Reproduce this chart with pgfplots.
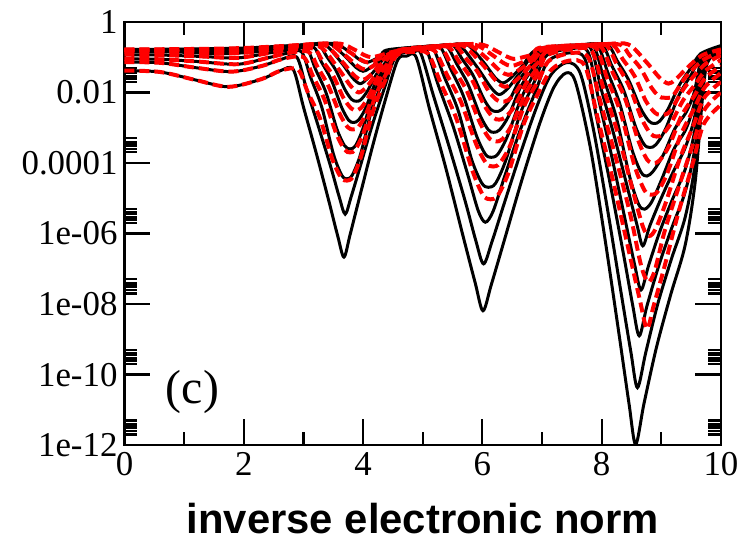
\documentclass[border=0pt]{standalone}
\usepackage{fontspec}
\setmainfont{Liberation Serif}
\newfontfamily\labelsans{Liberation Sans}
\usepackage{pgfplots}
\pgfplotsset{compat=1.18}
\begin{document}
\begin{tikzpicture}
\begin{axis}[
  scale only axis, width=299.5pt, height=212.5pt,
  xmin=0, xmax=10, ymin=1e-12, ymax=1, ymode=log,
  xtick={0,2,4,6,8,10}, xticklabels={0,2,4,6,8,10},
  minor xtick={1,3,5,7,9},
  ytick={1e-12,1e-10,1e-8,1e-6,1e-4,1e-2,1},
  yticklabels={1e-12,1e-10,1e-08,1e-06,0.0001,0.01,1},
  minor ytick={2e-12,2.5e-12,3e-12,3.5e-12,4e-12,5e-12,
               2e-10,2.5e-10,3e-10,3.5e-10,4e-10,5e-10,
               2e-8,2.5e-8,3e-8,3.5e-8,4e-8,5e-8,
               2e-6,2.5e-6,3e-6,3.5e-6,4e-6,5e-6,
               2e-4,2.5e-4,3e-4,3.5e-4,4e-4,5e-4,
               2e-2,2.5e-2,3e-2,3.5e-2,4e-2,5e-2},
  tick align=inside, xtick pos=both, ytick pos=both,
  xticklabel pos=lower, yticklabel pos=left,
  major tick length=13pt, minor tick length=6.5pt,
  tick style={black, line width=1.1pt},
  axis line style={line width=1.2pt},
  ticklabel style={font=\fontsize{17.5}{20}\selectfont},
  xlabel={inverse electronic norm},
  xlabel style={font=\labelsans\bfseries\fontsize{21}{24}\selectfont, yshift=-7pt},
  every axis plot/.append style={smooth, tension=0.5},
  blk/.style={black, line width=1.5pt},
  rd/.style={red, line width=2pt, dash pattern=on 5pt off 2.5pt},
]
% ---------------- black (solid) ----------------
\addplot[blk] table[row sep=\\, x=x, y expr=10^(\thisrow{L})] {x L\\
0 -1.38\\ 0.6 -1.42\\ 1.2 -1.65\\ 1.75 -1.84\\ 2.3 -1.62\\ 2.62 -1.38\\ 2.83 -1.35\\
3.00 -2.41\\ 3.21 -3.69\\ 3.425 -5.07\\ 3.578 -6.09\\ 3.68 -6.67\\ 3.78 -6.05\\ 3.94 -4.98\\ 4.16 -3.52\\ 4.38 -2.17\\ 4.58 -1.08\\
4.73 -0.97\\ 4.89 -1.0\\ 5.11 -2.44\\ 5.39 -4.16\\ 5.67 -6.03\\ 5.88 -7.40\\ 6.01 -8.19\\ 6.15 -7.45\\ 6.37 -6.18\\ 6.67 -4.44\\ 6.97 -2.84\\ 7.2 -1.85\\
7.40 -1.45\\ 7.56 -1.7\\ 7.81 -3.56\\ 8.05 -6.09\\ 8.29 -8.84\\ 8.46 -10.84\\ 8.57 -11.98\\ 8.71 -10.82\\ 8.92 -9.22\\ 9.16 -7.72\\ 9.40 -6.33\\ 9.57 -4.51\\ 9.75 -1.3\\ 10 -0.95\\
};
\addplot[blk] table[row sep=\\, x=x, y expr=10^(\thisrow{L})] {x L\\
0 -1.14\\ 0.6 -1.16\\ 1.2 -1.3\\ 1.8 -1.41\\ 2.3 -1.25\\ 2.65 -1.05\\ 2.89 -1.0\\
3.05 -1.89\\ 3.25 -2.96\\ 3.46 -4.12\\ 3.60 -4.96\\ 3.70 -5.45\\ 3.80 -4.96\\ 3.95 -4.11\\ 4.15 -2.95\\ 4.36 -1.87\\ 4.55 -0.98\\
4.85 -0.85\\ 4.97 -0.9\\ 5.18 -2.09\\ 5.44 -3.52\\ 5.71 -5.07\\ 5.89 -6.20\\ 6.02 -6.86\\ 6.16 -6.24\\ 6.36 -5.18\\ 6.64 -3.72\\ 6.92 -2.37\\ 7.15 -1.5\\
7.42 -1.15\\ 7.64 -1.45\\ 7.86 -3.03\\ 8.09 -5.23\\ 8.32 -7.62\\ 8.49 -9.36\\ 8.60 -10.37\\ 8.74 -9.37\\ 8.94 -8.00\\ 9.17 -6.72\\ 9.40 -5.54\\ 9.57 -3.99\\ 9.74 -1.25\\ 10 -0.88\\
};
\addplot[blk] table[row sep=\\, x=x, y expr=10^(\thisrow{L})] {x L\\
0 -1.05\\ 0.6 -1.06\\ 1.2 -1.12\\ 1.9 -1.2\\ 2.4 -1.02\\ 2.75 -0.88\\ 2.97 -0.85\\
3.12 -1.57\\ 3.31 -2.43\\ 3.50 -3.73\\ 3.64 -4.34\\ 3.73 -4.45\\ 3.82 -4.34\\ 3.96 -3.74\\ 4.15 -2.47\\ 4.35 -1.63\\ 4.52 -0.92\\
4.95 -0.78\\ 5.07 -0.82\\ 5.26 -1.79\\ 5.51 -2.96\\ 5.75 -4.30\\ 5.93 -5.35\\ 6.05 -5.68\\ 6.18 -5.37\\ 6.37 -4.40\\ 6.63 -3.09\\ 6.89 -1.98\\ 7.10 -1.12\\
7.45 -0.88\\ 7.72 -1.05\\ 7.90 -2.58\\ 8.13 -4.48\\ 8.36 -6.53\\ 8.52 -8.03\\ 8.63 -8.9\\ 8.76 -8.05\\ 8.96 -6.90\\ 9.18 -5.82\\ 9.40 -4.82\\ 9.57 -3.51\\ 9.73 -1.2\\ 10 -0.83\\
};
\addplot[blk] table[row sep=\\, x=x, y expr=10^(\thisrow{L})] {x L\\
0 -0.93\\ 0.6 -0.94\\ 1.3 -0.98\\ 1.9 -1.02\\ 2.5 -0.86\\ 2.85 -0.78\\ 3.06 -0.76\\
3.20 -1.33\\ 3.38 -2.01\\ 3.56 -3.03\\ 3.69 -3.51\\ 3.78 -3.6\\ 3.87 -3.52\\ 3.99 -3.06\\ 4.17 -2.08\\ 4.35 -1.42\\ 4.50 -0.87\\
5.05 -0.73\\ 5.18 -0.76\\ 5.36 -1.55\\ 5.59 -2.49\\ 5.82 -3.90\\ 5.99 -4.57\\ 6.10 -4.69\\ 6.22 -4.58\\ 6.39 -3.94\\ 6.64 -2.58\\ 6.88 -1.67\\ 7.08 -0.95\\
7.5 -0.76\\ 7.77 -0.85\\ 7.95 -2.20\\ 8.17 -3.82\\ 8.39 -5.58\\ 8.55 -6.86\\ 8.66 -7.6\\ 8.79 -6.89\\ 8.98 -5.92\\ 9.19 -5.02\\ 9.40 -4.18\\ 9.56 -3.09\\ 9.72 -1.15\\ 10 -0.79\\
};
\addplot[blk] table[row sep=\\, x=x, y expr=10^(\thisrow{L})] {x L\\
0 -0.84\\ 0.8 -0.85\\ 1.6 -0.9\\ 2.2 -0.85\\ 2.8 -0.72\\ 3.16 -0.7\\
3.30 -1.13\\ 3.47 -1.65\\ 3.64 -2.42\\ 3.76 -2.79\\ 3.84 -2.85\\ 3.92 -2.79\\ 4.04 -2.46\\ 4.20 -1.75\\ 4.37 -1.27\\ 4.49 -0.86\\
5.15 -0.7\\ 5.30 -0.72\\ 5.47 -1.34\\ 5.68 -2.09\\ 5.90 -3.22\\ 6.05 -3.75\\ 6.15 -3.84\\ 6.26 -3.75\\ 6.42 -3.24\\ 6.65 -2.17\\ 6.87 -1.45\\ 7.05 -0.85\\
7.55 -0.70\\ 7.82 -0.76\\ 7.99 -1.89\\ 8.21 -3.23\\ 8.43 -4.68\\ 8.59 -5.74\\ 8.69 -6.35\\ 8.81 -5.77\\ 9.00 -4.99\\ 9.20 -4.25\\ 9.40 -3.57\\ 9.56 -2.68\\ 9.71 -1.1\\ 10 -0.76\\
};
\addplot[blk] table[row sep=\\, x=x, y expr=10^(\thisrow{L})] {x L\\
0 -0.81\\ 0.8 -0.82\\ 1.6 -0.84\\ 2.4 -0.76\\ 3.0 -0.66\\ 3.26 -0.66\\
3.39 -0.98\\ 3.54 -1.36\\ 3.70 -1.93\\ 3.81 -2.20\\ 3.89 -2.25\\ 3.96 -2.21\\ 4.07 -1.97\\ 4.23 -1.47\\ 4.38 -1.14\\ 4.48 -0.84\\
5.25 -0.68\\ 5.41 -0.70\\ 5.57 -1.19\\ 5.76 -1.77\\ 5.96 -2.64\\ 6.10 -3.06\\ 6.19 -3.13\\ 6.29 -3.06\\ 6.44 -2.67\\ 6.64 -1.85\\ 6.85 -1.31\\ 7.02 -0.83\\
7.6 -0.67\\ 7.87 -0.71\\ 8.04 -1.64\\ 8.25 -2.74\\ 8.47 -4.39\\ 8.62 -5.17\\ 8.72 -5.31\\ 8.84 -5.10\\ 9.01 -4.45\\ 9.21 -3.61\\ 9.41 -3.05\\ 9.55 -2.33\\ 9.70 -1.05\\ 10 -0.73\\
};
\addplot[blk] table[row sep=\\, x=x, y expr=10^(\thisrow{L})] {x L\\
0 -0.8\\ 1 -0.8\\ 2 -0.79\\ 2.7 -0.7\\ 3.1 -0.64\\ 3.36 -0.64\\
3.63 -1.14\\ 3.82 -1.58\\ 3.95 -1.75\\ 4.07 -1.61\\ 4.26 -1.25\\ 4.48 -0.82\\
5.35 -0.66\\ 5.52 -0.68\\ 5.66 -1.05\\ 5.84 -1.50\\ 6.02 -2.17\\ 6.14 -2.48\\ 6.23 -2.54\\ 6.32 -2.49\\ 6.46 -2.20\\ 6.64 -1.59\\ 6.83 -1.19\\ 6.98 -0.8\\
7.65 -0.66\\ 7.93 -0.67\\ 8.10 -1.42\\ 8.30 -2.30\\ 8.51 -3.63\\ 8.66 -4.26\\ 8.76 -4.37\\ 8.87 -4.22\\ 9.04 -3.75\\ 9.23 -3.02\\ 9.41 -2.58\\ 9.55 -2.01\\ 9.69 -1.0\\ 10 -0.71\\
};
\addplot[blk] table[row sep=\\, x=x, y expr=10^(\thisrow{L})] {x L\\
0 -0.79\\ 1 -0.78\\ 2 -0.76\\ 2.8 -0.68\\ 3.2 -0.63\\ 3.46 -0.63\\
3.70 -0.98\\ 3.88 -1.29\\ 4.0 -1.4\\ 4.11 -1.31\\ 4.28 -1.08\\ 4.46 -0.8\\
5.45 -0.65\\ 5.63 -0.67\\ 5.92 -1.30\\ 6.14 -1.85\\ 6.28 -2.06\\ 6.43 -1.88\\ 6.65 -1.40\\ 6.96 -0.78\\
7.7 -0.65\\ 8.01 -0.66\\ 8.17 -1.24\\ 8.37 -1.94\\ 8.57 -2.98\\ 8.71 -3.47\\ 8.81 -3.56\\ 8.91 -3.48\\ 9.07 -3.04\\ 9.29 -2.10\\ 9.51 -1.47\\ 9.68 -0.95\\ 10 -0.69\\
};
\addplot[blk] table[row sep=\\, x=x, y expr=10^(\thisrow{L})] {x L\\
0 -0.78\\ 1 -0.77\\ 2 -0.74\\ 2.9 -0.66\\ 3.3 -0.62\\ 3.55 -0.62\\
3.78 -0.86\\ 3.94 -1.07\\ 4.05 -1.15\\ 4.15 -1.10\\ 4.30 -0.96\\ 4.45 -0.78\\
5.55 -0.64\\ 5.76 -0.66\\ 6.02 -1.14\\ 6.21 -1.57\\ 6.34 -1.73\\ 6.47 -1.60\\ 6.67 -1.25\\ 6.94 -0.76\\
7.75 -0.64\\ 8.10 -0.65\\ 8.26 -1.10\\ 8.45 -1.64\\ 8.65 -2.44\\ 8.79 -2.81\\ 8.88 -2.88\\ 8.97 -2.82\\ 9.11 -2.48\\ 9.31 -1.77\\ 9.50 -1.30\\ 9.66 -0.9\\ 10 -0.67\\
};
% ---------------- red (dashed) ----------------
\addplot[rd] table[row sep=\\, x=x, y expr=10^(\thisrow{L})] {x L\\
0 -1.38\\ 0.6 -1.42\\ 1.2 -1.65\\ 1.75 -1.84\\ 2.3 -1.62\\ 2.62 -1.38\\ 2.91 -1.35\\
3.07 -1.98\\ 3.28 -2.74\\ 3.48 -3.87\\ 3.63 -4.41\\ 3.73 -4.5\\ 3.83 -4.39\\ 3.97 -3.79\\ 4.17 -2.51\\ 4.37 -1.66\\ 4.56 -0.95\\
4.85 -0.85\\ 5.09 -0.9\\ 5.30 -1.73\\ 5.56 -2.72\\ 5.83 -4.20\\ 6.01 -4.91\\ 6.14 -5.03\\ 6.26 -4.92\\ 6.44 -4.27\\ 6.69 -2.91\\ 6.94 -2.01\\ 7.16 -1.35\\
7.45 -1.1\\ 7.72 -1.25\\ 7.93 -2.70\\ 8.19 -4.50\\ 8.45 -6.45\\ 8.64 -7.88\\ 8.76 -8.7\\ 8.87 -8.06\\ 9.05 -6.96\\ 9.28 -5.45\\ 9.52 -4.06\\ 9.71 -2.9\\ 10 -2.35\\
};
\addplot[rd] table[row sep=\\, x=x, y expr=10^(\thisrow{L})] {x L\\
0 -1.14\\ 0.6 -1.16\\ 1.2 -1.3\\ 1.8 -1.41\\ 2.3 -1.25\\ 2.65 -1.05\\ 3.00 -1.0\\
3.16 -1.54\\ 3.35 -2.19\\ 3.55 -3.16\\ 3.69 -3.62\\ 3.78 -3.7\\ 3.87 -3.62\\ 4.01 -3.14\\ 4.20 -2.13\\ 4.39 -1.46\\ 4.56 -0.9\\
4.95 -0.78\\ 5.20 -0.82\\ 5.40 -1.48\\ 5.64 -2.26\\ 5.89 -3.44\\ 6.06 -4.00\\ 6.18 -4.1\\ 6.29 -4.01\\ 6.47 -3.49\\ 6.70 -2.39\\ 6.94 -1.66\\ 7.12 -1.1\\
7.5 -0.88\\ 7.78 -1.02\\ 7.98 -2.27\\ 8.23 -3.80\\ 8.48 -5.46\\ 8.66 -6.90\\ 8.78 -7.37\\ 8.89 -7.05\\ 9.06 -5.91\\ 9.30 -4.64\\ 9.53 -3.47\\ 9.72 -2.5\\ 10 -2.0\\
};
\addplot[rd] table[row sep=\\, x=x, y expr=10^(\thisrow{L})] {x L\\
0 -1.05\\ 0.6 -1.06\\ 1.2 -1.12\\ 1.9 -1.2\\ 2.4 -1.02\\ 2.75 -0.88\\ 3.09 -0.85\\
3.24 -1.29\\ 3.42 -1.82\\ 3.61 -2.61\\ 3.74 -2.98\\ 3.83 -3.05\\ 3.92 -2.98\\ 4.05 -2.61\\ 4.23 -1.82\\ 4.41 -1.30\\ 4.56 -0.86\\
5.05 -0.74\\ 5.32 -0.76\\ 5.50 -1.29\\ 5.73 -1.92\\ 5.96 -2.86\\ 6.12 -3.31\\ 6.23 -3.39\\ 6.34 -3.32\\ 6.50 -2.90\\ 6.73 -2.01\\ 6.95 -1.41\\ 7.08 -0.95\\
7.55 -0.76\\ 7.84 -0.84\\ 8.03 -1.89\\ 8.27 -3.15\\ 8.51 -4.70\\ 8.69 -5.80\\ 8.80 -6.07\\ 8.91 -5.85\\ 9.08 -5.10\\ 9.31 -3.88\\ 9.54 -2.93\\ 9.72 -2.15\\ 10 -1.7\\
};
\addplot[rd] table[row sep=\\, x=x, y expr=10^(\thisrow{L})] {x L\\
0 -0.93\\ 0.6 -0.94\\ 1.3 -0.98\\ 1.9 -1.02\\ 2.5 -0.86\\ 2.85 -0.78\\ 3.18 -0.76\\
3.32 -1.11\\ 3.50 -1.53\\ 3.67 -2.15\\ 3.80 -2.45\\ 3.88 -2.5\\ 3.96 -2.45\\ 4.08 -2.16\\ 4.25 -1.56\\ 4.42 -1.16\\ 4.56 -0.82\\
5.15 -0.71\\ 5.44 -0.72\\ 5.61 -1.13\\ 5.82 -1.62\\ 6.03 -2.36\\ 6.18 -2.71\\ 6.28 -2.77\\ 6.38 -2.71\\ 6.54 -2.39\\ 6.75 -1.70\\ 6.96 -1.23\\ 7.05 -0.86\\
7.62 -0.71\\ 7.91 -0.75\\ 8.09 -1.59\\ 8.32 -2.58\\ 8.55 -4.07\\ 8.72 -4.78\\ 8.83 -4.9\\ 8.94 -4.81\\ 9.10 -4.29\\ 9.33 -3.19\\ 9.55 -2.46\\ 9.73 -1.85\\ 10 -1.45\\
};
\addplot[rd] table[row sep=\\, x=x, y expr=10^(\thisrow{L})] {x L\\
0 -0.84\\ 0.8 -0.85\\ 1.6 -0.9\\ 2.2 -0.85\\ 2.8 -0.72\\ 3.27 -0.7\\
3.57 -1.29\\ 3.79 -1.81\\ 3.93 -2.0\\ 4.07 -1.82\\ 4.28 -1.35\\ 4.57 -0.82\\
5.25 -0.69\\ 5.56 -0.70\\ 5.71 -1.01\\ 5.91 -1.39\\ 6.10 -1.95\\ 6.24 -2.21\\ 6.33 -2.26\\ 6.43 -2.22\\ 6.57 -1.97\\ 6.77 -1.44\\ 6.97 -1.09\\ 7.1 -0.82\\
7.7 -0.68\\ 7.99 -0.71\\ 8.17 -1.38\\ 8.39 -2.16\\ 8.61 -3.34\\ 8.76 -3.90\\ 8.87 -4.0\\ 8.97 -3.93\\ 9.13 -3.52\\ 9.34 -2.66\\ 9.56 -2.08\\ 9.73 -1.6\\ 10 -1.25\\
};
\addplot[rd] table[row sep=\\, x=x, y expr=10^(\thisrow{L})] {x L\\
0 -0.81\\ 0.8 -0.82\\ 1.6 -0.84\\ 2.4 -0.76\\ 3.0 -0.66\\ 3.36 -0.66\\
3.64 -1.11\\ 3.84 -1.50\\ 3.98 -1.65\\ 4.11 -1.53\\ 4.31 -1.19\\ 4.58 -0.82\\
5.35 -0.67\\ 5.68 -0.68\\ 6.00 -1.20\\ 6.23 -1.67\\ 6.38 -1.84\\ 6.55 -1.68\\ 6.79 -1.27\\ 7.05 -0.78\\
7.75 -0.66\\ 8.08 -0.67\\ 8.25 -1.19\\ 8.46 -1.81\\ 8.67 -2.74\\ 8.82 -3.17\\ 8.92 -3.25\\ 9.02 -3.19\\ 9.16 -2.88\\ 9.37 -2.21\\ 9.57 -1.77\\ 9.73 -1.4\\ 10 -1.08\\
};
\addplot[rd] table[row sep=\\, x=x, y expr=10^(\thisrow{L})] {x L\\
0 -0.8\\ 1 -0.8\\ 2 -0.79\\ 2.7 -0.7\\ 3.1 -0.64\\ 3.45 -0.64\\
3.71 -0.96\\ 3.90 -1.24\\ 4.03 -1.35\\ 4.15 -1.27\\ 4.34 -1.06\\ 4.59 -0.82\\
5.45 -0.66\\ 5.79 -0.67\\ 6.08 -1.04\\ 6.29 -1.38\\ 6.43 -1.5\\ 6.58 -1.40\\ 6.82 -1.12\\ 7.05 -0.76\\
7.85 -0.65\\ 8.19 -0.66\\ 8.35 -1.05\\ 8.55 -1.53\\ 8.74 -2.24\\ 8.89 -2.57\\ 8.98 -2.63\\ 9.14 -2.55\\ 9.39 -1.86\\ 9.72 -1.22\\ 10 -0.95\\
};
\addplot[rd] table[row sep=\\, x=x, y expr=10^(\thisrow{L})] {x L\\
0 -0.79\\ 1 -0.78\\ 2 -0.76\\ 2.8 -0.68\\ 3.2 -0.63\\ 3.54 -0.63\\
3.78 -0.86\\ 3.96 -1.07\\ 4.08 -1.15\\ 4.19 -1.10\\ 4.37 -0.97\\ 4.60 -0.82\\
5.55 -0.65\\ 5.90 -0.66\\ 6.16 -0.93\\ 6.35 -1.16\\ 6.48 -1.25\\ 6.62 -1.18\\ 6.84 -1.00\\ 7.02 -0.74\\
7.95 -0.64\\ 8.32 -0.65\\ 8.47 -0.95\\ 8.65 -1.31\\ 8.83 -1.85\\ 8.96 -2.11\\ 9.05 -2.15\\ 9.19 -2.10\\ 9.41 -1.56\\ 9.70 -1.08\\ 10 -0.85\\
};
\addplot[rd] table[row sep=\\, x=x, y expr=10^(\thisrow{L})] {x L\\
0 -0.78\\ 1 -0.77\\ 2 -0.74\\ 2.9 -0.66\\ 3.3 -0.62\\ 3.63 -0.62\\
3.86 -0.79\\ 4.02 -0.94\\ 4.13 -1.0\\ 4.24 -0.97\\ 4.39 -0.90\\ 4.61 -0.82\\
5.65 -0.64\\ 6.01 -0.65\\ 6.24 -0.83\\ 6.42 -0.99\\ 6.53 -1.05\\ 6.66 -1.01\\ 6.86 -0.91\\ 7.0 -0.72\\
8.05 -0.63\\ 8.45 -0.64\\ 8.75 -1.14\\ 8.97 -1.58\\ 9.12 -1.75\\ 9.24 -1.63\\ 9.43 -1.31\\ 9.68 -0.95\\ 10 -0.78\\
};
\node[font=\fontsize{24}{28}\selectfont] at (axis cs:1.14,3.2e-11) {(c)};
\end{axis}
\path ([xshift=-62.5pt,yshift=11pt]current axis.north west) rectangle ([xshift=10.5pt,yshift=-46.5pt]current axis.south east);
\end{tikzpicture}
\end{document}
